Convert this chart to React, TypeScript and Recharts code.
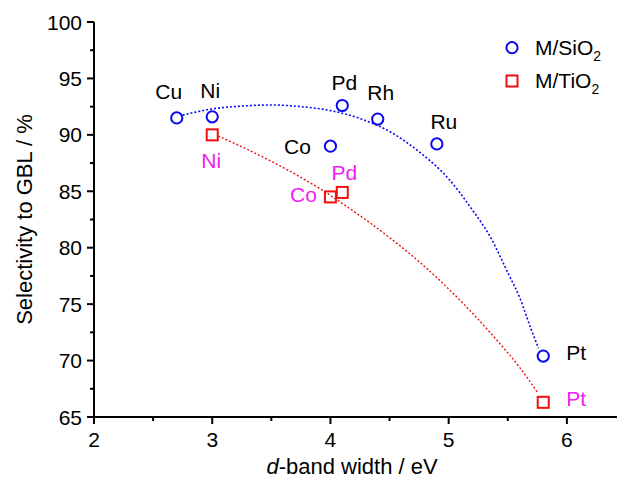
import React from 'react';
import { ComposedChart, XAxis, YAxis, Line, Scatter, Legend } from 'recharts';

// ---- data ----
const metalsSiO2 = ['Cu', 'Ni', 'Co', 'Pd', 'Rh', 'Ru', 'Pt'];
const dBandSiO2 = [2.7, 3.0, 4.0, 4.1, 4.4, 4.9, 5.8];
const selSiO2 = [91.5, 91.6, 89.0, 92.6, 91.4, 89.2, 70.4];

const metalsTiO2 = ['Ni', 'Co', 'Pd', 'Pt'];
const dBandTiO2 = [3.0, 4.0, 4.1, 5.8];
const selTiO2 = [90.0, 84.5, 84.9, 66.3];

// fitted (dotted) guide curves
const fitSiO2X = [2.75, 3.0, 3.25, 3.5, 3.75, 4.0, 4.25, 4.5, 4.75, 5.0, 5.2, 5.35, 5.5, 5.6, 5.7, 5.76];
const fitSiO2Y = [91.75, 92.3, 92.55, 92.65, 92.5, 92.15, 91.45, 90.3, 88.5, 86.1, 83.35, 81.0, 77.8, 75.6, 72.7, 71.1];

const fitTiO2X = [3.05, 3.3, 3.6, 3.9, 4.2, 4.5, 4.8, 5.1, 5.4, 5.6, 5.75];
const fitTiO2Y = [89.9, 88.7, 87.1, 85.3, 83.2, 80.9, 78.3, 75.3, 71.9, 69.4, 67.2];

const xTicks = [2, 2.5, 3, 3.5, 4, 4.5, 5, 5.5, 6, 6.5];
const yTicks = [65, 67.5, 70, 72.5, 75, 77.5, 80, 82.5, 85, 87.5, 90, 92.5, 95, 97.5, 100];

const seriesNames = ['M/SiO', 'M/TiO'];

// ---- label placement (pixel offsets from marker centre) ----
const sio2LabelOffset: Record<string, [number, number]> = {
  Cu: [-8, -26], Ni: [-2, -26], Co: [-33, 1], Pd: [2, -23], Rh: [3, -26], Ru: [7, -22], Pt: [33, -3],
};
const tio2LabelOffset: Record<string, [number, number]> = {
  Ni: [-1, 26], Co: [-27, -2], Pd: [2, -20], Pt: [33, -4],
};

const sio2Data = metalsSiO2.map((m, i) => ({ name: m, x: dBandSiO2[i], y: selSiO2[i] }));
const tio2Data = metalsTiO2.map((m, i) => ({ name: m, x: dBandTiO2[i], y: selTiO2[i] }));
const fitSiO2 = fitSiO2X.map((x, i) => ({ x, y: fitSiO2Y[i] }));
const fitTiO2 = fitTiO2X.map((x, i) => ({ x, y: fitTiO2Y[i] }));

const FONT = '"Liberation Sans", Arial, sans-serif';
const BLUE = '#0a0af0';
const RED = '#f01010';
const MAGENTA = '#f020f0';

const CircleShape = (props: any) => {
  const { cx, cy, payload } = props;
  const off = sio2LabelOffset[payload.name] || [0, -25];
  return (
    <g>
      <circle cx={cx} cy={cy} r={5.6} fill="none" stroke={BLUE} strokeWidth={2} />
      <text x={cx + off[0]} y={cy + off[1]} dy="0.35em" textAnchor="middle" fontFamily={FONT} fontSize={21} fill="#000">
        {payload.name}
      </text>
    </g>
  );
};

const SquareShape = (props: any) => {
  const { cx, cy, payload } = props;
  const off = tio2LabelOffset[payload.name] || [0, 25];
  return (
    <g>
      <rect x={cx - 5.5} y={cy - 5.5} width={11} height={11} fill="none" stroke={RED} strokeWidth={2} />
      <text x={cx + off[0]} y={cy + off[1]} dy="0.35em" textAnchor="middle" fontFamily={FONT} fontSize={21} fill={MAGENTA}>
        {payload.name}
      </text>
    </g>
  );
};

const XTick = (props: any) => {
  const { x, y, payload } = props;
  const v = payload.value;
  const major = Number.isInteger(v);
  return (
    <g>
      <line x1={x} x2={x} y1={y} y2={y + (major ? 7 : 4)} stroke="#000" strokeWidth={2} />
      {major && (
        <text x={x} y={y + 30} textAnchor="middle" fontFamily={FONT} fontSize={21} fill="#000">
          {v}
        </text>
      )}
    </g>
  );
};

const YTick = (props: any) => {
  const { x, y, payload } = props;
  const v = payload.value;
  const major = v % 5 === 0;
  return (
    <g>
      <line x1={x - (major ? 7 : 4)} x2={x} y1={y} y2={y} stroke="#000" strokeWidth={2} />
      {major && (
        <text x={x - 12} y={y + 7.5} textAnchor="end" fontFamily={FONT} fontSize={21} fill="#000">
          {v}
        </text>
      )}
    </g>
  );
};

const XTitle = (props: any) => {
  const vb = props.viewBox || { x: 94, y: 417 };
  return (
    <text x={vb.x + 258} y={vb.y + 57} textAnchor="middle" fontFamily={FONT} fontSize={22} fill="#000">
      <tspan fontStyle="italic">d</tspan>
      <tspan>-band width / eV</tspan>
    </text>
  );
};

const YTitle = (props: any) => {
  const vb = props.viewBox || { x: 0, y: 22, width: 94, height: 395 };
  const cx = 24;
  const cy = vb.y + vb.height / 2;
  return (
    <text
      x={cx}
      y={cy}
      dy="0.35em"
      transform={`rotate(-90, ${cx}, ${cy})`}
      textAnchor="middle"
      fontFamily={FONT}
      fontSize={22}
      fill="#000"
    >
      Selectivity to GBL / %
    </text>
  );
};

const LegendContent = () => (
  <svg width={120} height={70} style={{ display: 'block' }}>
    <circle cx={12} cy={17.7} r={5.6} fill="none" stroke={BLUE} strokeWidth={2} />
    <text x={35} y={25} fontFamily={FONT} fontSize={21} fill="#000">
      {seriesNames[0]}
      <tspan fontSize={14} dy={6}>2</tspan>
    </text>
    <rect x={6.5} y={45.5} width={11} height={11} fill="none" stroke={RED} strokeWidth={2} />
    <text x={35} y={58} fontFamily={FONT} fontSize={21} fill="#000">
      {seriesNames[1]}
      <tspan fontSize={14} dy={6}>2</tspan>
    </text>
  </svg>
);

export default function App() {
  return (
    <div
      style={{
        position: 'fixed',
        left: 0,
        top: 0,
        width: 617,
        height: 479,
        overflow: 'hidden',
        background: '#fff',
      }}
    >
      <ComposedChart
        width={640}
        height={479}
        margin={{ top: 22, right: 14, bottom: 0, left: 0 }}
      >
        <XAxis
          dataKey="x"
          type="number"
          domain={[2, 6.5]}
          ticks={xTicks}
          interval={0}
          allowDataOverflow
          height={62}
          tickSize={0}
          tickMargin={0}
          tickLine={false}
          tick={<XTick />}
          axisLine={{ stroke: '#000', strokeWidth: 2 }}
          label={<XTitle />}
        />
        <XAxis
          xAxisId="top"
          orientation="top"
          dataKey="x"
          type="number"
          domain={[2, 6.5]}
          height={0}
          tick={false}
          tickLine={false}
          axisLine={{ stroke: '#000', strokeWidth: 2 }}
        />
        <YAxis
          type="number"
          domain={[65, 100]}
          ticks={yTicks}
          interval={0}
          allowDataOverflow
          width={94}
          tickSize={0}
          tickMargin={0}
          tickLine={false}
          tick={<YTick />}
          axisLine={{ stroke: '#000', strokeWidth: 2 }}
          label={<YTitle />}
        />
        <YAxis
          yAxisId="right"
          orientation="right"
          type="number"
          domain={[65, 100]}
          width={0}
          tick={false}
          tickLine={false}
          axisLine={{ stroke: '#000', strokeWidth: 2 }}
        />
        <Line
          data={fitSiO2}
          dataKey="y"
          type="monotone"
          stroke={BLUE}
          strokeWidth={1.6}
          strokeDasharray="2 2"
          dot={false}
          activeDot={false}
          isAnimationActive={false}
          legendType="none"
        />
        <Line
          data={fitTiO2}
          dataKey="y"
          type="monotone"
          stroke={RED}
          strokeWidth={1.4}
          strokeDasharray="2 2"
          dot={false}
          activeDot={false}
          isAnimationActive={false}
          legendType="none"
        />
        <Scatter name="M/SiO2" data={sio2Data} dataKey="y" shape={<CircleShape />} isAnimationActive={false} />
        <Scatter name="M/TiO2" data={tio2Data} dataKey="y" shape={<SquareShape />} isAnimationActive={false} />
        <Legend
          layout="vertical"
          align="center"
          verticalAlign="middle"
          content={<LegendContent />}
          wrapperStyle={{ left: 500, top: 30, width: 120, height: 70 }}
        />
      </ComposedChart>
    </div>
  );
}
